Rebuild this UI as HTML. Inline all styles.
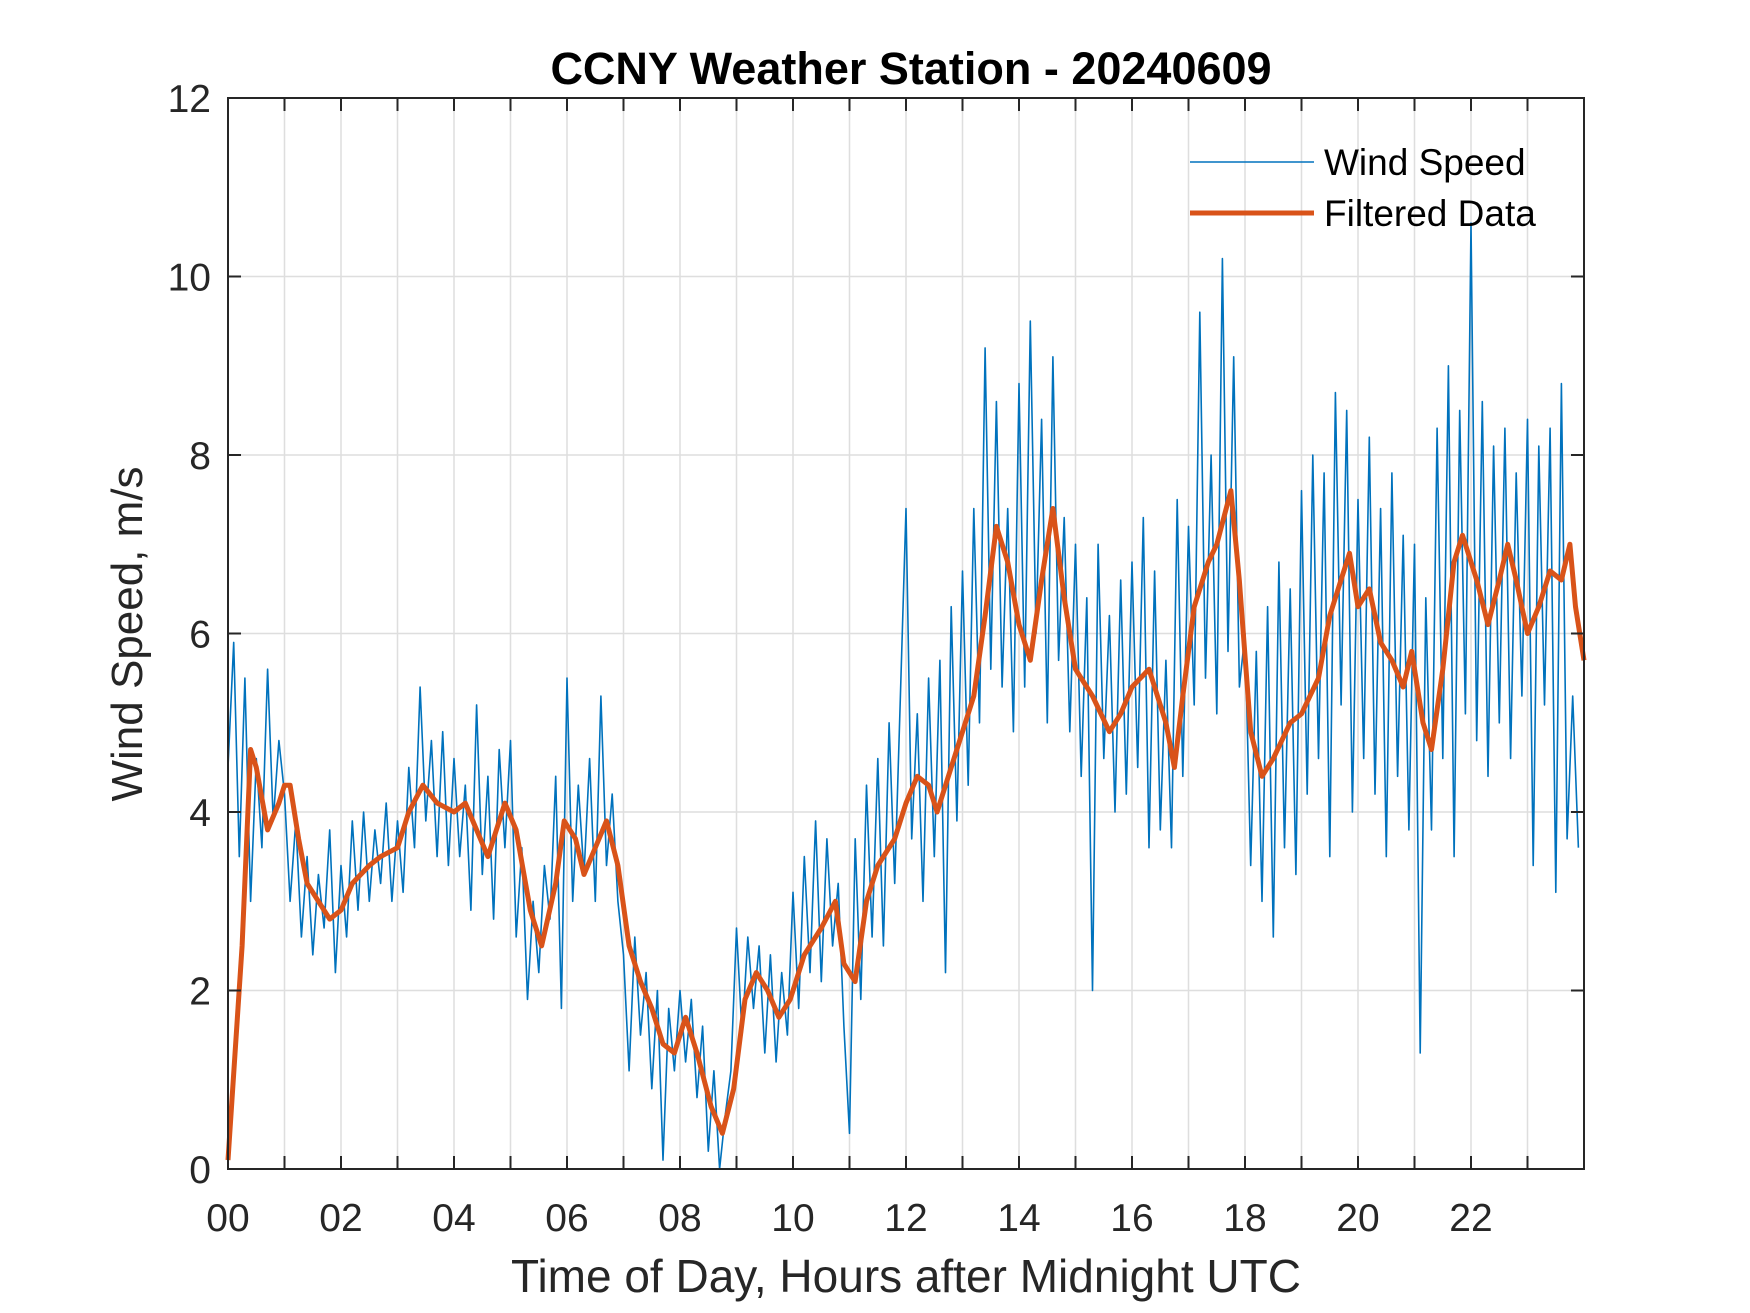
<!DOCTYPE html>
<html><head><meta charset="utf-8"><style>
body{margin:0;background:#fff;}
svg{display:block;font-family:"Liberation Sans",Arial,sans-serif;}
</style></head><body>
<svg id="chart" width="1750" height="1313" viewBox="0 0 1750 1313">
<rect width="1750" height="1313" fill="#fff"/>
<g id="grid"></g>
<g id="series"></g>
<rect x="228" y="98" width="1356" height="1071" fill="none" stroke="#262626" stroke-width="2"/>
<g id="ticks"></g>
<text x="911" y="84" text-anchor="middle" font-size="45" font-weight="bold" fill="#000">CCNY Weather Station - 20240609</text>
<text x="906" y="1292" text-anchor="middle" font-size="46" fill="#262626">Time of Day, Hours after Midnight UTC</text>
<text transform="translate(142,634) rotate(-90)" text-anchor="middle" font-size="44" fill="#262626">Wind Speed, m/s</text>
<g>
<line x1="1190" y1="162" x2="1314" y2="162" stroke="#0072BD" stroke-width="1.5"/>
<text x="1324" y="175" font-size="37" fill="#000">Wind Speed</text>
<line x1="1190" y1="213" x2="1314" y2="213" stroke="#D95319" stroke-width="5"/>
<text x="1324" y="226" font-size="37" fill="#000">Filtered Data</text>
</g>
</svg>
<script>
const rawValues=[
4.5,5.9,3.5,5.5,3.0,4.6,3.6,5.6,3.9,4.8,
4.2,3.0,3.9,2.6,3.5,2.4,3.3,2.7,3.8,2.2,
3.4,2.6,3.9,2.9,4.0,3.0,3.8,3.2,4.1,3.0,
3.9,3.1,4.5,3.6,5.4,3.9,4.8,3.5,4.9,3.4,
4.6,3.5,4.3,2.9,5.2,3.3,4.4,2.8,4.7,3.6,
4.8,2.6,3.6,1.9,3.0,2.2,3.4,2.8,4.4,1.8,
5.5,3.0,4.3,3.3,4.6,3.0,5.3,3.4,4.2,3.0,
2.4,1.1,2.6,1.5,2.2,0.9,2.0,0.1,1.8,1.1,
2.0,1.2,1.9,0.8,1.6,0.2,1.1,0.0,0.6,1.1,
2.7,1.5,2.6,1.8,2.5,1.3,2.4,1.2,2.2,1.5,
3.1,1.8,3.5,2.2,3.9,2.1,3.7,2.5,3.2,1.6,
0.4,3.7,1.9,4.3,2.6,4.6,2.5,5.0,3.2,5.3,
7.4,3.7,5.1,3.0,5.5,3.5,5.7,2.2,6.3,3.9,
6.7,4.3,7.4,5.0,9.2,5.6,8.6,5.4,7.4,4.9,
8.8,5.4,9.5,6.0,8.4,5.0,9.1,5.7,7.3,4.9,
7.0,4.4,6.4,2.0,7.0,4.6,6.2,4.0,6.6,4.2,
6.8,4.5,7.3,3.6,6.7,3.8,5.7,3.6,7.5,4.4,
7.2,5.2,9.6,5.5,8.0,5.1,10.2,5.8,9.1,5.4,
6.0,3.4,5.8,3.0,6.3,2.6,6.8,3.6,6.5,3.3,
7.6,4.2,8.0,4.6,7.8,3.5,8.7,5.2,8.5,4.0,
7.5,4.6,8.2,4.2,7.4,3.5,7.8,4.4,7.1,3.8,
7.0,1.3,6.4,3.8,8.3,4.6,9.0,3.5,8.5,5.1,
10.6,4.8,8.6,4.4,8.1,5.0,8.3,4.6,7.8,5.3,
8.4,3.4,8.1,5.2,8.3,3.1,8.8,3.7,5.3,3.6];
const filtHours=[0,0.25,0.4,0.5,0.7,0.9,1.0,1.1,1.25,1.4,1.6,1.8,2.0,2.2,2.5,2.7,3.0,3.2,3.45,3.7,4.0,4.2,4.4,4.6,4.9,5.1,5.35,5.55,5.8,5.95,6.15,6.3,6.5,6.7,6.9,7.1,7.3,7.5,7.7,7.9,8.1,8.3,8.55,8.75,8.95,9.15,9.35,9.55,9.75,9.95,10.2,10.5,10.75,10.9,11.1,11.3,11.5,11.8,12.0,12.2,12.4,12.55,12.8,13.0,13.2,13.4,13.6,13.8,14.0,14.2,14.4,14.6,14.8,15.0,15.3,15.6,15.8,16.0,16.3,16.6,16.75,16.9,17.1,17.35,17.5,17.75,17.9,18.1,18.3,18.5,18.8,19.0,19.3,19.5,19.7,19.85,20.0,20.2,20.4,20.6,20.8,20.95,21.15,21.3,21.5,21.7,21.85,22.1,22.3,22.5,22.65,22.8,23.0,23.2,23.4,23.6,23.75,23.85,24.0];
const filtValues=[0.1,2.5,4.7,4.5,3.8,4.1,4.3,4.3,3.7,3.2,3.0,2.8,2.9,3.2,3.4,3.5,3.6,4.0,4.3,4.1,4.0,4.1,3.8,3.5,4.1,3.8,2.9,2.5,3.2,3.9,3.7,3.3,3.6,3.9,3.4,2.5,2.1,1.8,1.4,1.3,1.7,1.3,0.7,0.4,0.9,1.9,2.2,2.0,1.7,1.9,2.4,2.7,3.0,2.3,2.1,3.0,3.4,3.7,4.1,4.4,4.3,4.0,4.5,4.9,5.3,6.2,7.2,6.8,6.1,5.7,6.6,7.4,6.4,5.6,5.3,4.9,5.1,5.4,5.6,5.0,4.5,5.3,6.3,6.8,7.0,7.6,6.6,4.9,4.4,4.6,5.0,5.1,5.5,6.2,6.6,6.9,6.3,6.5,5.9,5.7,5.4,5.8,5.0,4.7,5.6,6.8,7.1,6.6,6.1,6.6,7.0,6.6,6.0,6.3,6.7,6.6,7.0,6.3,5.7];
const xTicks=[0,2,4,6,8,10,12,14,16,18,20,22];
const xTickLabels=["00","02","04","06","08","10","12","14","16","18","20","22"];
const yTicks=[0,2,4,6,8,10,12];
const L=228,R=1584,T=98,B=1169;
const xs=h=>L+(h/24)*(R-L);
const ys=v=>B-(v/12)*(B-T);
const NS="http://www.w3.org/2000/svg";
function mk(tag,attrs,parent){const e=document.createElementNS(NS,tag);for(const k in attrs)e.setAttribute(k,attrs[k]);parent.appendChild(e);return e;}
const grid=document.getElementById('grid'),ticks=document.getElementById('ticks'),series=document.getElementById('series');
for(let h=1;h<24;h++){
 const g=mk('line',{x1:xs(h),x2:xs(h),y1:T,y2:B,stroke:'#dedede','stroke-width':1.5},grid);
 
 
 const t1=mk('line',{x1:xs(h),x2:xs(h),y1:B,y2:B-13,stroke:'#262626','stroke-width':2},ticks);
 
 
 const t2=mk('line',{x1:xs(h),x2:xs(h),y1:T,y2:T+13,stroke:'#262626','stroke-width':2},ticks);
 
 
}
xTicks.forEach((h,i)=>{
 const t=mk('text',{x:xs(h),y:1231,'text-anchor':'middle','font-size':39,fill:'#262626'},ticks);
 t.textContent=xTickLabels[i];
 
 
});
yTicks.forEach(v=>{
 if(v>0&&v<12){
  const g=mk('line',{x1:L,x2:R,y1:ys(v),y2:ys(v),stroke:'#dedede','stroke-width':1.5},grid);
  
  
  const a=mk('line',{x1:L,x2:L+13,y1:ys(v),y2:ys(v),stroke:'#262626','stroke-width':2},ticks);
  
  
  const b=mk('line',{x1:R-13,x2:R,y1:ys(v),y2:ys(v),stroke:'#262626','stroke-width':2},ticks);
  
  
 }
 const t=mk('text',{x:211,y:ys(v)+14,'text-anchor':'end','font-size':39,fill:'#262626'},ticks);
 t.textContent=String(v);
 
 
});
const step=24/rawValues.length;
const rawPts=rawValues.map((v,i)=>xs(i*step).toFixed(1)+','+ys(v).toFixed(1)).join(' ');
const raw=mk('polyline',{points:rawPts,fill:'none',stroke:'#0072BD','stroke-width':1.6,'stroke-linejoin':'round'},series);


const fPts=filtValues.map((v,i)=>xs(filtHours[i]).toFixed(1)+','+ys(v).toFixed(1)).join(' ');
const f=mk('polyline',{points:fPts,fill:'none',stroke:'#D95319','stroke-width':5,'stroke-linejoin':'round'},series);


</script>
</body></html>
